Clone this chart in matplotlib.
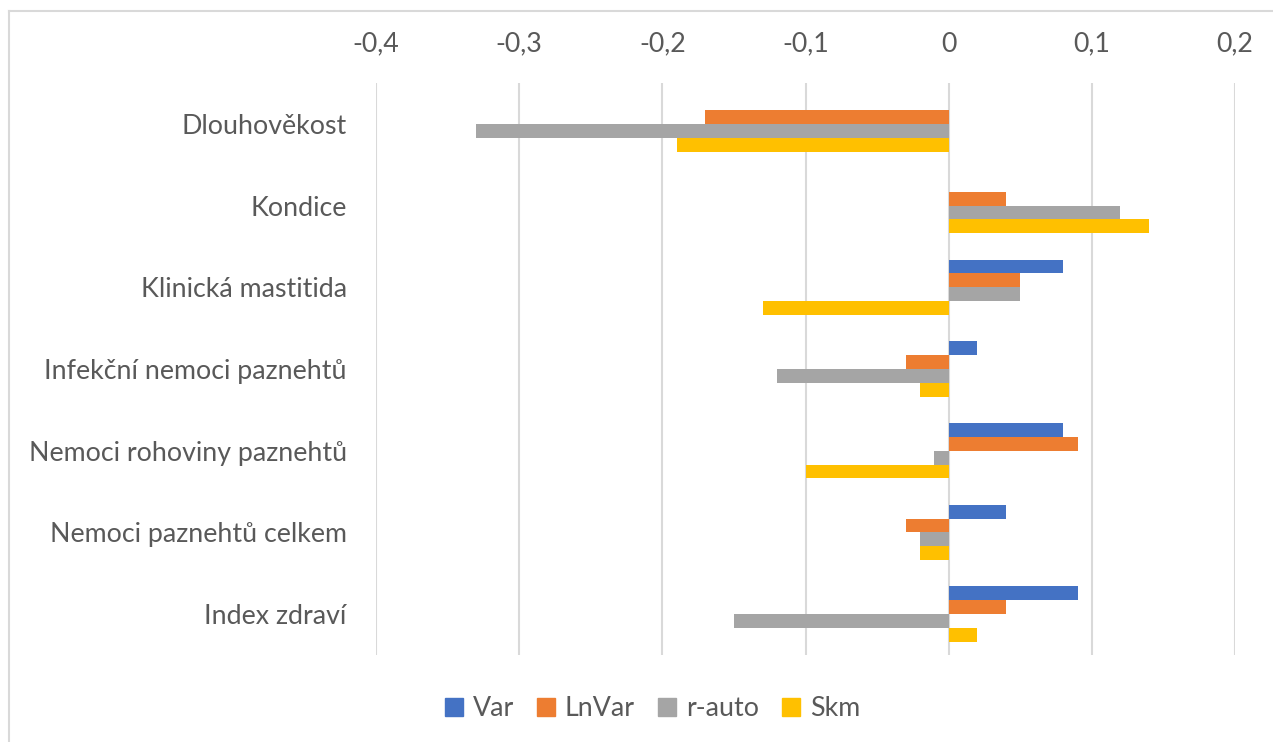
import matplotlib
matplotlib.use("Agg")
import matplotlib.pyplot as plt
import numpy as np
from matplotlib.ticker import FuncFormatter, MultipleLocator
from matplotlib.lines import Line2D

plt.rcParams['font.family'] = ['Lato', 'DejaVu Sans']
plt.rcParams['axes.unicode_minus'] = False

categories = [
    "Dlouhověkost",
    "Kondice",
    "Klinická mastitida",
    "Infekční nemoci paznehtů",
    "Nemoci rohoviny paznehtů",
    "Nemoci paznehtů celkem",
    "Index zdraví",
]
series_names = ["Var", "LnVar", "r-auto", "Skm"]
var_vals = [0.0, 0.0, 0.08, 0.02, 0.08, 0.04, 0.09]
lnvar_vals = [-0.17, 0.04, 0.05, -0.03, 0.09, -0.03, 0.04]
rauto_vals = [-0.33, 0.12, 0.05, -0.12, -0.01, -0.02, -0.15]
skm_vals = [-0.19, 0.14, -0.13, -0.02, -0.10, -0.02, 0.02]
colors = ["#4472C4", "#ED7D31", "#A5A5A5", "#FFC000"]

W, H = 1273, 742
fig = plt.figure(figsize=(W / 100, H / 100), dpi=100)
ax = fig.add_axes([376 / W, 1 - 655 / H, (1235 - 376) / W, (655 - 83) / H])

text_color = "#595959"
grid_color = "#D9D9D9"

y = np.arange(len(categories))
h = 0.17
all_series = [var_vals, lnvar_vals, rauto_vals, skm_vals]
for i, (vals, col) in enumerate(zip(all_series, colors)):
    ax.barh(y + (i - 1.5) * h, vals, height=h, color=col, zorder=3)

ax.set_xlim(-0.4, 0.2)
ax.set_ylim(len(categories) - 0.5, -0.5)
ax.xaxis.set_major_locator(MultipleLocator(0.1))
ax.xaxis.set_major_formatter(FuncFormatter(
    lambda v, p: "0" if abs(v) < 1e-9 else f"{v:.1f}".replace(".", ",")))
ax.xaxis.tick_top()
ax.grid(axis="x", color=grid_color, linewidth=1.5, zorder=0)
ax.set_yticks(y)
ax.set_yticklabels(categories)
ax.tick_params(axis="both", length=0, labelsize=19.3, colors=text_color)
ax.tick_params(axis="x", pad=19)
ax.tick_params(axis="y", pad=21)
for s in ax.spines.values():
    s.set_visible(False)

handles = [Line2D([], [], marker="s", linestyle="none", markersize=12.5,
                  markerfacecolor=c, markeredgecolor=c) for c in colors]
fig.legend(handles, series_names, loc="center", bbox_to_anchor=(651 / W, 1 - 709 / H),
           ncol=4, frameon=False, fontsize=19.3, labelcolor=text_color,
           handletextpad=0.25, columnspacing=0.75, handlelength=0.9)

# chart frame
fig.add_artist(Line2D([9 / W, 1], [1 - 11 / H, 1 - 11 / H], color=grid_color, linewidth=1.5))
fig.add_artist(Line2D([9 / W, 9 / W], [0, 1 - 11 / H], color=grid_color, linewidth=1.5))

fig.savefig("out.png", dpi=100)
